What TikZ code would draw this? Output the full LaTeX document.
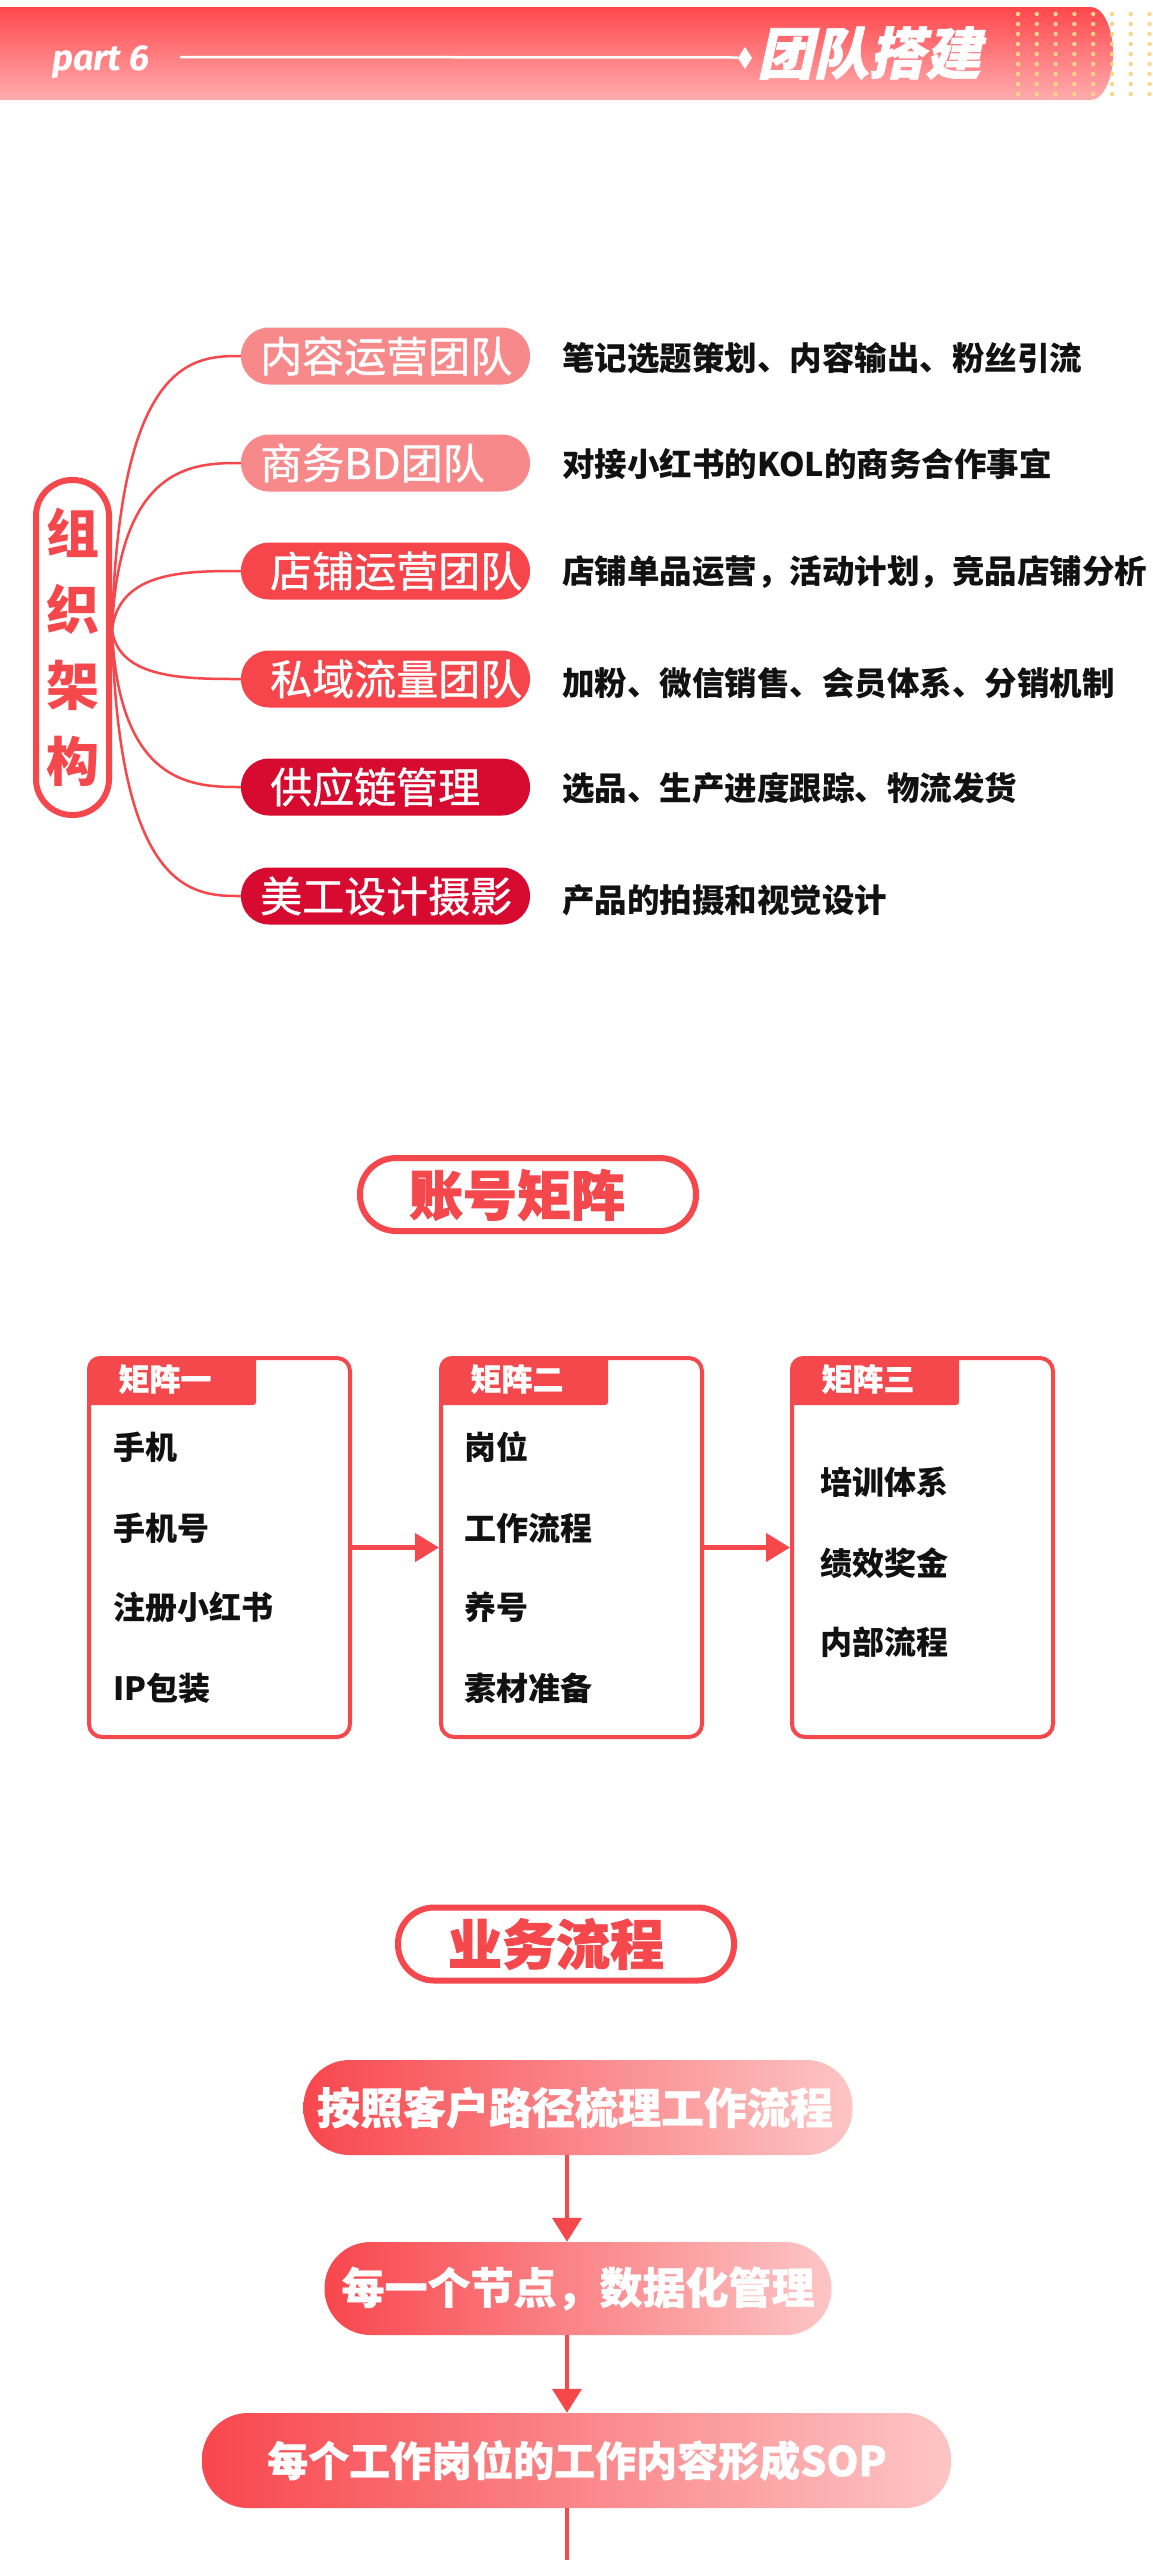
\documentclass[tikz,border=0pt]{standalone}
\usepackage{fontspec}
\usetikzlibrary{arrows.meta}
\newfontfamily\cjk{Noto Sans CJK SC}
\newfontfamily\cjkmed{Noto Sans CJK SC}[FakeBold=0.9]
\newfontfamily\cjkslant{Noto Sans CJK SC}[FakeSlant=0.22, FakeBold=1]
\newfontfamily\cjkheavy{Noto Sans CJK SC}[FakeBold=1.5]
\newfontfamily\cjkhv{Noto Sans CJK SC}[FakeBold=0.8]
\newfontfamily\partfont{Fira Sans}
\definecolor{mred}{HTML}{F5484D}
\definecolor{salmon}{HTML}{F8898A}
\definecolor{pred}{HTML}{F7464B}
\definecolor{crim}{HTML}{D70A2F}
\definecolor{ink}{HTML}{111111}
\definecolor{bandtop}{HTML}{FF484D}
\definecolor{bandbot}{HTML}{FFADAE}
\definecolor{flowL}{HTML}{F8474D}
\definecolor{flowR}{HTML}{FDC5C5}
\definecolor{dotc}{HTML}{F9D58C}
\tikzset{
 pillA/.style={rectangle, rounded corners=28pt, minimum width=289pt, minimum height=57pt, inner sep=0pt},
 pilltext/.style={anchor=west, inner sep=0pt, text=white, font=\cjkmed\fontsize{42pt}{50pt}\selectfont},
 desc/.style={anchor=west, inner sep=0pt, text=ink, font=\cjk\bfseries\fontsize{32.5pt}{40pt}\selectfont},
 branch/.style={draw=mred, line width=2.5pt},
 sectitle/.style={draw=mred, line width=6pt, fill=white, rectangle, rounded corners=36pt, minimum width=336pt, minimum height=73pt, inner sep=0pt},
 sectext/.style={inner sep=0pt, text=mred, font=\cjkheavy\bfseries\fontsize{54pt}{60pt}\selectfont},
 mbox/.style={draw=mred, line width=4pt, fill=white, rectangle, rounded corners=13pt, minimum width=261pt, minimum height=379pt, inner sep=0pt},
 tabtext/.style={inner sep=0pt, text=white, font=\cjkhv\bfseries\fontsize{31pt}{36pt}\selectfont},
 item/.style={anchor=west, inner sep=0pt, text=ink, font=\cjk\bfseries\fontsize{32pt}{36pt}\selectfont},
 harrow/.style={draw=mred, line width=4.5pt, -{Triangle[length=24pt, width=28pt]}},
 varrow/.style={draw=mred, line width=4pt, -{Triangle[length=24pt, width=29pt]}},
 flowpill/.style={rectangle, rounded corners=46pt, left color=flowL, right color=flowR, inner sep=0pt, minimum height=95pt},
 flowtext/.style={inner sep=0pt, text=white, font=\cjkhv\bfseries\fontsize{43pt}{50pt}\selectfont},
}
\begin{document}
\begin{tikzpicture}[x=1pt,y=-1pt]
\useasboundingbox (0,0) rectangle (1152,2560);
\fill[white] (0,0) rectangle (1152,2560);

% ---------- header band ----------
\shade[top color=bandtop, bottom color=bandbot] (-10,7) -- (1091,7) arc[start angle=-90, end angle=90, x radius=22, y radius=46.5] -- (-10,100) -- cycle;
\foreach \i in {0,...,7}{
  \foreach \j in {0,...,8}{
    \fill[dotc] (1018+18.8*\i, 14+10*\j) circle[radius=2.2];
  }
}
\node[anchor=base west, inner sep=0pt, text=white, font=\partfont\bfseries\itshape\fontsize{36pt}{40pt}\selectfont] (part) at (52,70) {part 6};
\coordinate (ls) at (180,57);
\coordinate (le) at (738,57.5);
\draw[white, line width=2.5pt] (ls) -- (le);
\fill[white] (738,58) -- (745,47) -- (752,58) -- (745,69) -- cycle;
\node[anchor=west, inner sep=0pt, text=white, font=\cjkslant\bfseries\fontsize{56pt}{60pt}\selectfont] (ttl) at (757,53) {团队搭建};

% ---------- mind map ----------
\node[draw=mred, line width=6pt, rectangle, rounded corners=36pt, minimum width=73pt, minimum height=335pt, inner sep=0pt, align=center, text=mred, font=\cjk\bfseries\fontsize{53pt}{76pt}\selectfont] (org) at (72.5,647.5) {组\\织\\架\\构};

\node[pillA, fill=salmon] (b1) at (385.5,356) {};
\node[pillA, fill=salmon] (b2) at (385.5,463) {};
\node[pillA, fill=pred] (b3) at (385.5,571) {};
\node[pillA, fill=pred] (b4) at (385.5,679) {};
\node[pillA, fill=crim] (b5) at (385.5,787) {};
\node[pillA, fill=crim] (b6) at (385.5,896) {};

\node[pilltext] at (260,356) {内容运营团队};
\node[pilltext] at (260,463) {商务BD团队};
\node[pilltext] at (270,571) {店铺运营团队};
\node[pilltext] at (270,679) {私域流量团队};
\node[pilltext] at (270,787) {供应链管理};
\node[pilltext] at (260,896) {美工设计摄影};

\coordinate (o) at ([yshift=17.5pt]org.east);
\draw[branch] (o) .. controls (119,356) and (195,356) .. (b1.west);
\draw[branch] (o) .. controls (119,463) and (195,463) .. (b2.west);
\draw[branch] (o) .. controls (119,571) and (185,571) .. (b3.west);
\draw[branch] (o) .. controls (119,679) and (185,679) .. (b4.west);
\draw[branch] (o) .. controls (119,787) and (195,787) .. (b5.west);
\draw[branch] (o) .. controls (119,896) and (195,896) .. (b6.west);

\node[desc] at (562,358) {笔记选题策划、内容输出、粉丝引流};
\node[desc] at (562,464) {对接小红书的KOL的商务合作事宜};
\node[desc] at (562,572) {店铺单品运营，活动计划，竞品店铺分析};
\node[desc] at (562,683) {加粉、微信销售、会员体系、分销机制};
\node[desc] at (562,788) {选品、生产进度跟踪、物流发货};
\node[desc] at (562,900) {产品的拍摄和视觉设计};

% ---------- account matrix ----------
\node[sectitle] (acct) at (528,1194.5) {};
\node[sectext] at (517,1195) {账号矩阵};

\node[mbox] (m1) at (219.5,1547.5) {};
\node[mbox] (m2) at (571.5,1547.5) {};
\node[mbox] (m3) at (922.5,1547.5) {};
\foreach \m/\t in {m1/矩阵一, m2/矩阵二, m3/矩阵三}{
  \begin{scope}
    \clip[rounded corners=13pt] (\m.north west) rectangle (\m.south east);
    \fill[mred, rounded corners=3pt] ([xshift=-10pt,yshift=10pt]\m.north west) rectangle ([xshift=169pt,yshift=-49pt]\m.north west);
  \end{scope}
  \node[tabtext] at ([xshift=78pt,yshift=-23pt]\m.north west) {\t};
}
\node[item] at (113,1447) {手机};
\node[item] at (113,1528) {手机号};
\node[item] at (113,1607) {注册小红书};
\node[item] at (113,1688) {IP包装};
\node[item] at (464,1447) {岗位};
\node[item] at (464,1528) {工作流程};
\node[item] at (464,1607) {养号};
\node[item] at (464,1688) {素材准备};
\node[item] at (820,1482) {培训体系};
\node[item] at (820,1563) {绩效奖金};
\node[item] at (820,1642) {内部流程};

\draw[harrow] (m1.east) -- (m2.west);
\draw[harrow] (m2.east) -- (m3.west);

% ---------- business flow ----------
\node[sectitle] (biz) at (566,1944) {};
\node[sectext] at (556,1944) {业务流程};

\node[flowpill, minimum width=549pt] (f1) at (578,2107.5) {};
\node[flowtext] at (575,2107.5) {按照客户路径梳理工作流程};
\node[flowpill, minimum width=507pt, minimum height=93pt] (f2) at (578,2288.5) {};
\node[flowtext] at (578,2288.5) {每一个节点，数据化管理};
\node[flowpill, minimum width=749pt] (f3) at (576.5,2460.5) {};
\node[flowtext, font=\cjkhv\bfseries\fontsize{41pt}{50pt}\selectfont] at (577,2460.5) {每个工作岗位的工作内容形成SOP};

\draw[varrow] ([xshift=-11pt]f1.south) -- ([xshift=-11pt]f2.north);
\draw[varrow] ([xshift=-11pt]f2.south) -- ([xshift=-9.5pt]f3.north);
\coordinate (tail) at (567,2566);
\draw[mred, line width=4pt] ([xshift=-9.5pt]f3.south) -- (tail);
\end{tikzpicture}
\end{document}
